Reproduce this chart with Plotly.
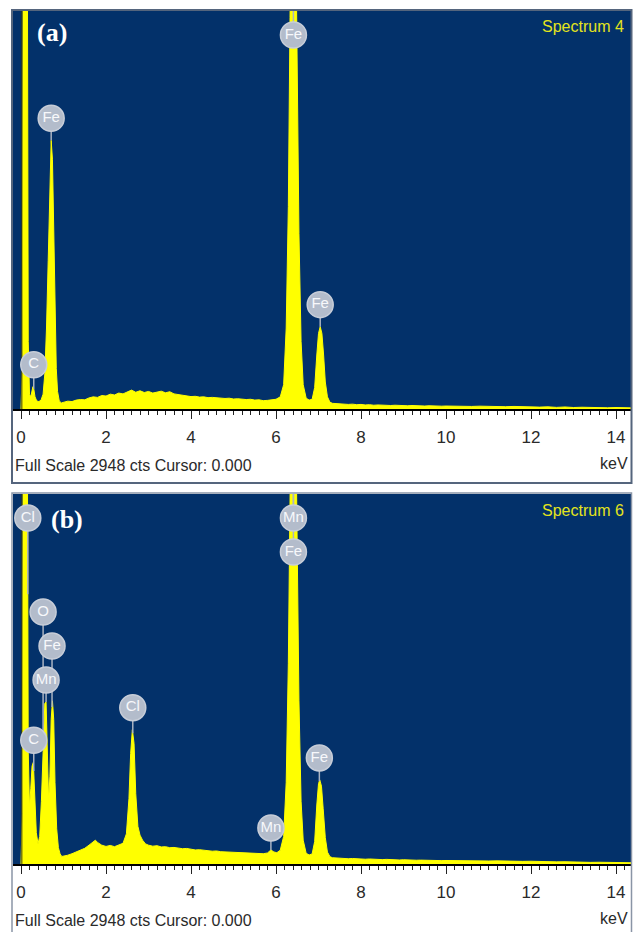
import numpy as np
import plotly.graph_objects as go

# ---------------- data ----------------
full_scale = 2948  # cts

energy_a = [0.00, 0.03, 0.05, 0.15, 0.17, 0.20, 0.23, 0.26, 0.28, 0.30,
            0.33, 0.37, 0.42, 0.47, 0.52, 0.56, 0.60, 0.64, 0.68, 0.71,
            0.74, 0.77, 0.80, 0.83, 0.86, 0.90, 0.95, 1.0, 1.1, 1.2,
            1.3, 1.4, 1.5, 1.6, 1.7, 1.8, 1.9, 2.0, 2.1, 2.2,
            2.3, 2.4, 2.5, 2.6, 2.7, 2.8, 2.9, 3.0, 3.1, 3.2,
            3.3, 3.4, 3.5, 3.6, 3.7, 3.8, 3.9, 4.0, 4.1, 4.2,
            4.3, 4.4, 4.5, 4.6, 4.7, 4.8, 4.9, 5.0, 5.1, 5.2,
            5.3, 5.4, 5.5, 5.6, 5.7, 5.8, 5.9, 6.0, 6.1, 6.18,
            6.24, 6.29, 6.33, 6.35, 6.47, 6.50, 6.54, 6.59, 6.64, 6.71,
            6.78, 6.85, 6.91, 6.96, 7.00, 7.04, 7.08, 7.12, 7.16, 7.21,
            7.27, 7.33, 7.4, 7.5, 7.6, 7.7, 7.8, 7.9, 8.0, 8.1,
            8.2, 8.3, 8.4, 8.5, 8.6, 8.7, 8.8, 8.9, 9.0, 9.1,
            9.2, 9.3, 9.4, 9.5, 9.6, 9.7, 9.8, 9.9, 10.0, 10.2,
            10.4, 10.6, 10.8, 11.0, 11.2, 11.4, 11.6, 11.8, 12.0, 12.2,
            12.4, 12.6, 12.8, 13.0, 13.2, 13.4, 13.6, 13.8, 14.0, 14.2,
            14.4]
counts_a = [0, 300, 3400, 3400, 500, 110, 90, 140, 165, 150,
            90, 60, 55, 65, 110, 260, 600, 1100, 1650, 1990,
            1850, 1300, 700, 300, 130, 60, 45, 48, 58, 55,
            66, 70, 68, 82, 90, 86, 100, 96, 110, 104,
            118, 112, 128, 140, 124, 135, 122, 130, 118, 124,
            132, 120, 128, 112, 106, 100, 96, 92, 94, 88,
            90, 84, 86, 82, 80, 78, 80, 74, 76, 72,
            70, 72, 66, 68, 62, 64, 70, 72, 90, 180,
            600, 1500, 2900, 3400, 3400, 2600, 1300, 500, 180, 80,
            66, 72, 160, 400, 560, 610, 560, 400, 200, 90,
            50, 42, 40, 36, 38, 34, 36, 32, 34, 30,
            32, 28, 30, 27, 29, 26, 28, 25, 27, 24,
            26, 23, 25, 22, 24, 22, 23, 21, 22, 20,
            22, 19, 21, 18, 20, 17, 19, 16, 18, 14,
            16, 12, 15, 11, 13, 10, 12, 9, 11, 9,
            8]

energy_b = [0.00, 0.03, 0.05, 0.15, 0.17, 0.20, 0.23, 0.26, 0.29, 0.32,
            0.36, 0.40, 0.44, 0.48, 0.52, 0.56, 0.59, 0.62, 0.65, 0.68,
            0.71, 0.74, 0.77, 0.80, 0.84, 0.88, 0.92, 0.96, 1.0, 1.1,
            1.2, 1.3, 1.4, 1.5, 1.6, 1.7, 1.75, 1.8, 1.9, 2.0,
            2.1, 2.2, 2.3, 2.4, 2.48, 2.54, 2.58, 2.62, 2.66, 2.70,
            2.75, 2.80, 2.86, 2.93, 3.0, 3.1, 3.2, 3.3, 3.4, 3.5,
            3.6, 3.7, 3.8, 3.9, 4.0, 4.1, 4.2, 4.3, 4.4, 4.5,
            4.6, 4.7, 4.8, 4.9, 5.0, 5.1, 5.2, 5.3, 5.4, 5.5,
            5.6, 5.7, 5.8, 5.88, 5.95, 6.02, 6.1, 6.18, 6.24, 6.29,
            6.33, 6.35, 6.47, 6.50, 6.54, 6.59, 6.64, 6.71, 6.78, 6.85,
            6.91, 6.96, 7.00, 7.03, 7.07, 7.11, 7.16, 7.21, 7.27, 7.33,
            7.4, 7.5, 7.6, 7.7, 7.8, 7.9, 8.0, 8.1, 8.2, 8.3,
            8.4, 8.5, 8.6, 8.7, 8.8, 8.9, 9.0, 9.1, 9.2, 9.3,
            9.4, 9.5, 9.6, 9.7, 9.8, 9.9, 10.0, 10.2, 10.4, 10.6,
            10.8, 11.0, 11.2, 11.4, 11.6, 11.8, 12.0, 12.2, 12.4, 12.6,
            12.8, 13.0, 13.2, 13.4, 13.6, 13.8, 14.0, 14.2, 14.4]
counts_b = [0, 400, 3400, 3400, 900, 450, 600, 780, 810, 600,
            250, 160, 220, 500, 950, 1280, 1290, 900, 500, 700,
            1150, 1300, 1150, 650, 280, 130, 80, 60, 62, 70,
            82, 95, 110, 125, 150, 175, 190, 172, 150, 140,
            148, 138, 152, 165, 240, 520, 880, 1070, 960, 560,
            300, 230, 190, 160, 150, 142, 146, 136, 138, 130,
            132, 126, 122, 124, 118, 112, 114, 108, 106, 102,
            104, 98, 96, 98, 92, 94, 88, 90, 86, 84,
            86, 82, 88, 112, 96, 90, 110, 220, 650, 1600,
            2900, 3400, 3400, 2600, 1300, 500, 190, 85, 72, 80,
            180, 470, 640, 670, 620, 440, 210, 95, 58, 50,
            48, 44, 46, 42, 44, 40, 42, 38, 40, 37,
            38, 35, 37, 34, 35, 32, 34, 31, 32, 30,
            31, 29, 30, 28, 29, 27, 28, 26, 27, 25,
            26, 24, 25, 22, 23, 21, 22, 19, 20, 17,
            18, 15, 16, 13, 14, 12, 13, 11, 10]

# element labels: text, label energy, energy of the peak it sits on, stack level
labels_a_text = ["C", "Fe", "Fe", "Fe"]
labels_a_energy = [0.30, 0.71, 6.41, 7.04]
labels_a_peak = [0.28, 0.71, 6.41, 7.04]
labels_a_stack = [0, 0, 0, 0]

labels_b_text = ["Cl", "C", "Mn", "Fe", "O", "Cl", "Mn", "Fe", "Mn", "Fe"]
labels_b_energy = [0.16, 0.30, 0.59, 0.73, 0.52, 2.63, 5.88, 6.41, 6.41, 7.02]
labels_b_peak = [0.10, 0.29, 0.59, 0.59, 0.59, 2.62, 5.88, 6.41, 6.41, 7.03]
labels_b_stack = [0, 0, 0, 1, 2, 0, 0, -1, 0, 0]

tick_vals = [0, 2, 4, 6, 8, 10, 12, 14]
tick_text = ["0", "2", "4", "6", "8", "10", "12", "14"]

spectrum_names = ["Spectrum 4", "Spectrum 6"]
panel_tags = ["(a)", "(b)"]
footer_text = "Full Scale 2948 cts Cursor: 0.000"

assert len(energy_a) == len(counts_a)
assert len(energy_b) == len(counts_b)

# ---------------- layout geometry ----------------
W, H = 638, 932
BLUE = "#03316a"
YELLOW = "#ffff00"
NARROW = "Liberation Sans Narrow, Arial Narrow, Liberation Sans, Arial, sans-serif"

def py(p):  # pixel row -> paper y
    return (H - p) / H

def px(p):
    return p / W

x_dom = [px(13), px(631)]
panels = [
    dict(top=11, bottom=409, E=energy_a, C=counts_a, lt=labels_a_text, le=labels_a_energy,
         lp=labels_a_peak, ls=labels_a_stack),
    dict(top=494, bottom=864, E=energy_b, C=counts_b, lt=labels_b_text, le=labels_b_energy,
         lp=labels_b_peak, ls=labels_b_stack),
]
x_range = [(13 - 21) / 42.5, (631 - 21) / 42.5]

fig = go.Figure()
layout = dict(width=W, height=H, margin=dict(l=0, r=0, t=0, b=0),
              paper_bgcolor="white", plot_bgcolor=BLUE, showlegend=False)
annotations = []
shapes = []

for i, p in enumerate(panels):
    xa = "x" if i == 0 else "x2"
    ya = "y" if i == 0 else "y2"
    xkey = "xaxis" if i == 0 else "xaxis2"
    ykey = "yaxis" if i == 0 else "yaxis2"
    cpp = full_scale / (p["bottom"] - p["top"])  # counts per pixel

    layout[xkey] = dict(domain=x_dom, range=x_range, anchor=ya, showgrid=False, zeroline=False,
                        showline=True, linecolor="black", linewidth=1.5,
                        ticks="outside", ticklen=8, tickwidth=1, tickcolor="#222",
                        tickvals=tick_vals, ticktext=tick_text,
                        tickfont=dict(family=NARROW, size=17, color="#2a2a2a"),
                        ticklabelstandoff=4,
                        minor=dict(ticks="outside", dtick=0.2, tick0=0, ticklen=4,
                                   tickwidth=1, tickcolor="#222"))
    layout[ykey] = dict(domain=[py(p["bottom"]), py(p["top"])], range=[0, full_scale],
                        anchor=xa, showgrid=False, zeroline=False, showticklabels=False,
                        ticks="", showline=False)

    # spectrum
    fig.add_trace(go.Scatter(x=p["E"], y=p["C"], mode="lines", fill="tozeroy",
                             fillcolor=YELLOW, line=dict(color=YELLOW, width=1),
                             xaxis=xa, yaxis=ya, hoverinfo="skip"))
    # dark line at zero energy
    fig.add_trace(go.Scatter(x=[0.02, 0.02], y=[0, full_scale], mode="lines",
                             line=dict(color="#3a3a10", width=1), xaxis=xa, yaxis=ya,
                             hoverinfo="skip"))

    # labels
    gap = 22 * cpp
    top_gap = 24 * cpp
    step = 34 * cpp
    lx, ly = [], []
    for t, e, pe, s in zip(p["lt"], p["le"], p["lp"], p["ls"]):
        peak = float(np.interp(pe, p["E"], p["C"]))
        anchor = min(peak + gap, full_scale - top_gap)
        yl = anchor + s * step
        own_peak = min(float(np.interp(e, p["E"], p["C"])), full_scale)
        fig.add_trace(go.Scatter(x=[e, e], y=[own_peak, yl], mode="lines",
                                 line=dict(color="#aab3c2", width=1.5),
                                 xaxis=xa, yaxis=ya, hoverinfo="skip"))
        lx.append(e)
        ly.append(yl)
    fig.add_trace(go.Scatter(x=lx, y=ly, mode="markers+text", text=p["lt"],
                             textposition="middle center",
                             textfont=dict(family=NARROW, size=15, color="#f7f8fb"),
                             marker=dict(symbol="circle", size=26, color="#b3bccb",
                                         line=dict(color="#c7cdd8", width=1.5)),
                             xaxis=xa, yaxis=ya, hoverinfo="skip", cliponaxis=False))

    # texts
    annotations.append(dict(text=spectrum_names[i], x=px(626), y=py(p["top"] + 16),
                            xref="paper", yref="paper", xanchor="right", yanchor="middle",
                            showarrow=False, font=dict(family=NARROW, size=16, color="#e4e41c")))
    annotations.append(dict(text="<b>%s</b>" % panel_tags[i],
                            x=px(35 if i == 0 else 49), y=py(p["top"] + (22 if i == 0 else 25)),
                            xref="paper", yref="paper", xanchor="left", yanchor="middle",
                            showarrow=False,
                            font=dict(family="Liberation Serif, Times New Roman, serif", size=26,
                                      color="white")))
    annotations.append(dict(text=footer_text, x=px(13), y=py(p["bottom"] + 56),
                            xref="paper", yref="paper", xanchor="left", yanchor="middle",
                            showarrow=False, font=dict(family=NARROW, size=16, color="#2a2a2a")))
    annotations.append(dict(text="keV", x=px(630), y=py(p["bottom"] + 54),
                            xref="paper", yref="paper", xanchor="right", yanchor="middle",
                            showarrow=False, font=dict(family=NARROW, size=16, color="#2a2a2a")))

# panel frames
shapes.append(dict(type="rect", xref="paper", yref="paper", x0=px(12), x1=px(631.5),
                   y0=py(483), y1=py(10), line=dict(color="#55657d", width=2)))
shapes.append(dict(type="rect", xref="paper", yref="paper", x0=px(12), x1=px(631.5),
                   y0=py(940), y1=py(493), line=dict(color="#8a95a6", width=1.5)))

layout["annotations"] = annotations
layout["shapes"] = shapes
fig.update_layout(**layout)
fig.write_html("out.html")
